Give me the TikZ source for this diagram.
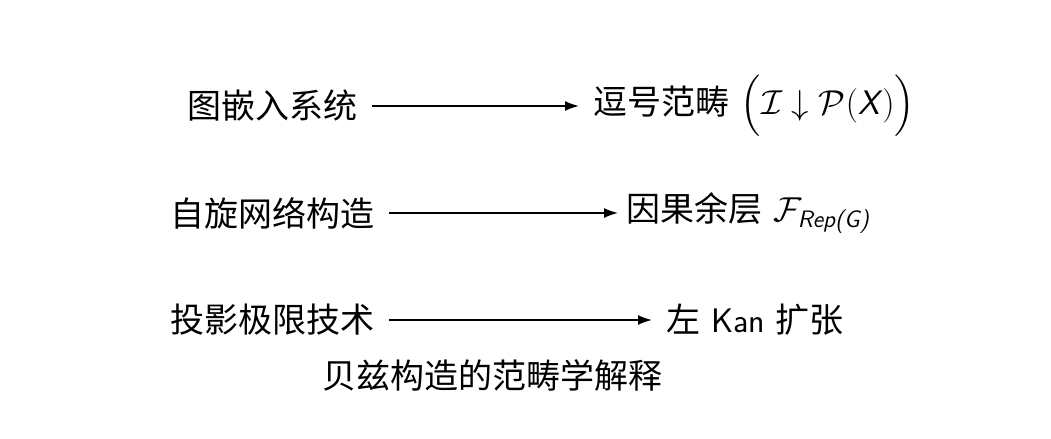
\documentclass[tikz,border=0pt]{standalone}
\usepackage{amsmath}
\usepackage{amssymb}
\usepackage{fontspec}
\usepackage{tikz}
\usetikzlibrary{arrows.meta}
\newfontfamily\cjk{Noto Sans CJK SC}
\def\rowa{106}
\def\rowb{213}
\def\rowc{320}

\begin{document}
\begin{tikzpicture}[x=0.5pt, y=-0.5pt,
		txt/.style={inner sep=7pt, font=\fontsize{17}{20}\selectfont\cjk},
		link/.style={-{Latex[length=7pt,width=5pt]}, line width=0.8pt}]
	\useasboundingbox (0,0) rectangle (1051,439);
	% left column
	\node[txt, anchor=east] (graph) at (372,\rowa) {图嵌入系统};
	\node[txt, anchor=east] (spin)  at (389,\rowb) {自旋网络构造};
	\node[txt, anchor=east] (proj)  at (389,\rowc) {投影极限技术};
	% right column
	\node[txt, anchor=west] (comma) at (579,\rowa)
		{逗号范畴\,\,$\Big(\mathcal{I}\downarrow\mathcal{P}(\textsf{\textit{X}})\Big)$};
	\node[txt, anchor=west] (cosheaf) at (612,\rowb)
		{因果余层\textsf{ }$\mathcal{F}_{\textsf{\textit{Rep(G)}}}$};
	\node[txt, anchor=west] (kan) at (652,\rowc) {左\textsf{ Kan }扩张};
	% caption
	\node[txt] (title) at (492,375) {贝兹构造的范畴学解释};
	\draw[link] (graph) -- (comma);
	\draw[link, shorten >=-3pt] (spin) -- (cosheaf);
	\draw[link] (proj) -- (kan);
\end{tikzpicture}
\end{document}
